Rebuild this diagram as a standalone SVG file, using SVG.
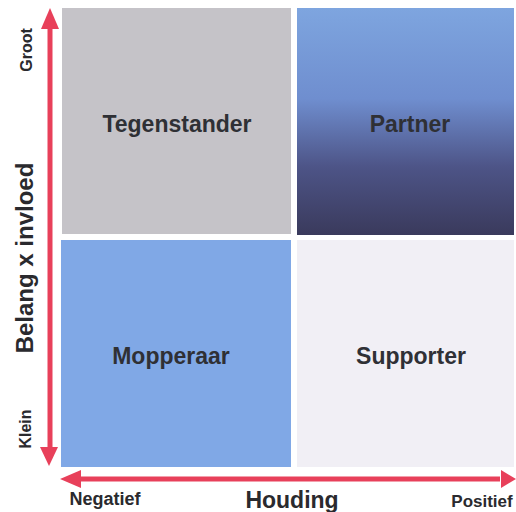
<svg xmlns="http://www.w3.org/2000/svg" width="516" height="512" viewBox="0 0 516 512">
<defs>
<linearGradient id="gPartner" x1="0" y1="0" x2="0" y2="1">
<stop offset="0" stop-color="#7ea5df"/>
<stop offset="0.4" stop-color="#6f8ecf"/>
<stop offset="0.7" stop-color="#4d5487"/>
<stop offset="1" stop-color="#3a3a5c"/>
</linearGradient>
<style>
.q{font-family:"Liberation Sans",Arial,sans-serif;font-weight:bold;font-size:23px;fill:#2f3035;text-anchor:middle}
.ax{font-family:"Liberation Sans",Arial,sans-serif;font-weight:bold;fill:#2a2a2e;text-anchor:middle}
.arr{stroke:#e8405a;stroke-width:5;fill:none}
.head{fill:#e8405a}
</style>
</defs>
<rect width="516" height="512" fill="#ffffff"/>
<g id="tegenstander">
<rect x="62" y="8" width="229" height="226" fill="#c5c3c8"/>
<text class="q" x="177" y="132">Tegenstander</text>
</g>
<g id="partner">
<rect x="297" y="8" width="217" height="227" fill="url(#gPartner)"/>
<text class="q" x="410" y="132">Partner</text>
</g>
<g id="mopperaar">
<rect x="61" y="240" width="230" height="227" fill="#80a8e6"/>
<text class="q" x="171" y="364">Mopperaar</text>
</g>
<g id="supporter">
<rect x="297" y="240" width="217" height="227" fill="#f1eff5"/>
<text class="q" x="411" y="364">Supporter</text>
</g>
<g id="connectors">
<line class="arr" x1="50" y1="26" x2="50" y2="450"/>
<polygon class="head" points="50,8 41,29 59,29"/>
<polygon class="head" points="49,466 40,447 58,447"/>
<line class="arr" x1="78" y1="479" x2="500" y2="479"/>
<polygon class="head" points="60,479 81,470 81,488"/>
<polygon class="head" points="516,479 501,470 501,488"/>
</g>
<g id="labels">
<text class="ax" font-size="16" transform="translate(32,50) rotate(-90)">Groot</text>
<text class="ax" font-size="16" transform="translate(31,429) rotate(-90)">Klein</text>
<text class="ax" font-size="24" transform="translate(33,258) rotate(-90)">Belang x invloed</text>
<text class="ax" font-size="18" x="105" y="505">Negatief</text>
<text class="ax" font-size="23" x="292" y="508">Houding</text>
<text class="ax" font-size="17" x="482" y="507">Positief</text>
</g>
</svg>
